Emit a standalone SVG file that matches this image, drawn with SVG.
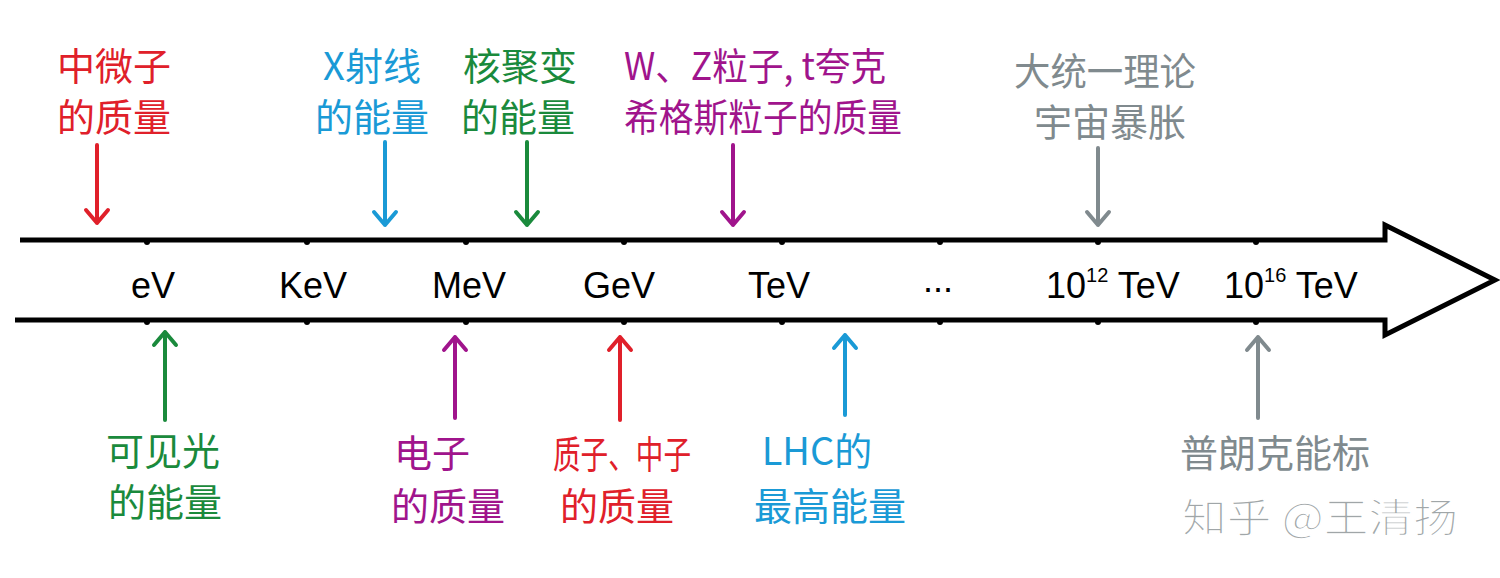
<svg xmlns="http://www.w3.org/2000/svg" width="1500" height="578" viewBox="0 0 1500 578">
<style>
.cn{font-family:"Noto Sans CJK SC","Noto Sans",sans-serif;font-size:38px;text-anchor:middle}
.u{font-family:"Liberation Sans","Noto Sans",sans-serif;font-size:36px;text-anchor:middle;fill:#000}
.us{font-family:"Liberation Sans","Noto Sans",sans-serif;font-size:36px;text-anchor:start;fill:#000}
.red{fill:#e0202a}.blue{fill:#1a9ad6}.green{fill:#1a8a3c}.purple{fill:#a0148c}.gray{fill:#808a8e}
.ar{stroke-width:4;fill:none;stroke-linecap:round;stroke-linejoin:round}
.tick{fill:#000}
</style>
<rect width="1500" height="578" fill="#fff"/>
<g id="axis">
<path d="M20 240 H1385 V225 L1495 280 L1385 335 V320 H15" fill="none" stroke="#000" stroke-width="5" stroke-linejoin="miter"/>
<g class="tick">
<circle cx="147" cy="242" r="3"/><circle cx="307" cy="242" r="3"/><circle cx="466" cy="242" r="3"/><circle cx="624" cy="242" r="3"/><circle cx="782" cy="242" r="3"/><circle cx="940" cy="242" r="3"/><circle cx="1098" cy="242" r="3"/><circle cx="1256" cy="242" r="3"/>
<circle cx="147" cy="322" r="3"/><circle cx="307" cy="322" r="3"/><circle cx="466" cy="322" r="3"/><circle cx="624" cy="322" r="3"/><circle cx="782" cy="322" r="3"/><circle cx="940" cy="322" r="3"/><circle cx="1098" cy="322" r="3"/><circle cx="1256" cy="322" r="3"/>
</g>
</g>
<g id="units">
<text class="u" x="153" y="298">eV</text>
<text class="u" x="313" y="298">KeV</text>
<text class="u" x="469" y="298">MeV</text>
<text class="u" x="619" y="298">GeV</text>
<text class="u" x="779" y="298">TeV</text>
<text class="u" x="938" y="292">...</text>
<text class="us" x="1046" y="298">10<tspan dy="-16" font-size="20">12</tspan><tspan dy="16"> TeV</tspan></text>
<text class="us" x="1224" y="298">10<tspan dy="-16" font-size="20">16</tspan><tspan dy="16"> TeV</tspan></text>
</g>
<g id="connectors">
<path class="ar" stroke="#e0202a" d="M97 145 V223 M86 210 L97 223 L108 210"/>
<path class="ar" stroke="#1a9ad6" d="M385 142 V225 M374 212 L385 225 L396 212"/>
<path class="ar" stroke="#1a8a3c" d="M527 142 V225 M516 212 L527 225 L538 212"/>
<path class="ar" stroke="#a0148c" d="M733 145 V225 M722 212 L733 225 L744 212"/>
<path class="ar" stroke="#808a8e" d="M1098 148 V225 M1087 212 L1098 225 L1109 212"/>
<path class="ar" stroke="#1a8a3c" d="M165 420 V332 M154 345 L165 332 L176 345"/>
<path class="ar" stroke="#a0148c" d="M455 418 V337 M444 350 L455 337 L466 350"/>
<path class="ar" stroke="#e0202a" d="M620 420 V337 M609 350 L620 337 L631 350"/>
<path class="ar" stroke="#1a9ad6" d="M845 415 V335 M834 348 L845 335 L856 348"/>
<path class="ar" stroke="#808a8e" d="M1258 418 V337 M1247 350 L1258 337 L1269 350"/>
</g>
<g id="n-neutrino"><text class="cn red" x="114" y="80">中微子</text><text class="cn red" x="114" y="131">的质量</text></g>
<g id="n-xray"><text class="cn blue" x="372" y="80">X射线</text><text class="cn blue" x="372" y="131">的能量</text></g>
<g id="n-fusion"><text class="cn green" x="520" y="80">核聚变</text><text class="cn green" x="518" y="131">的能量</text></g>
<g id="n-wz"><text class="cn purple" x="755" y="80" textLength="262" lengthAdjust="spacingAndGlyphs">W、Z粒子, t夸克</text><text class="cn purple" x="763" y="131" textLength="278" lengthAdjust="spacingAndGlyphs">希格斯粒子的质量</text></g>
<g id="n-gut"><text class="cn gray" x="1105" y="85" textLength="182" lengthAdjust="spacingAndGlyphs">大统一理论</text><text class="cn gray" x="1110" y="136">宇宙暴胀</text></g>
<g id="n-visible"><text class="cn green" x="163" y="465">可见光</text><text class="cn green" x="165" y="516">的能量</text></g>
<g id="n-electron"><text class="cn purple" x="432" y="467">电子</text><text class="cn purple" x="448" y="520">的质量</text></g>
<g id="n-proton"><text class="cn red" x="622" y="468" textLength="138" lengthAdjust="spacingAndGlyphs">质子、中子</text><text class="cn red" x="617" y="520">的质量</text></g>
<g id="n-lhc"><text class="cn blue" x="817" y="465">LHC的</text><text class="cn blue" x="830" y="520">最高能量</text></g>
<g id="n-planck"><text class="cn gray" x="1275" y="467">普朗克能标</text></g>
<g id="watermark"><text x="1320" y="532" textLength="276" lengthAdjust="spacingAndGlyphs" style="font-family:'Noto Sans CJK SC',sans-serif;font-size:40px;text-anchor:middle;fill:#a0a6a8;stroke:#fff;stroke-width:1.5">知乎 @王清扬</text></g>
</svg>
